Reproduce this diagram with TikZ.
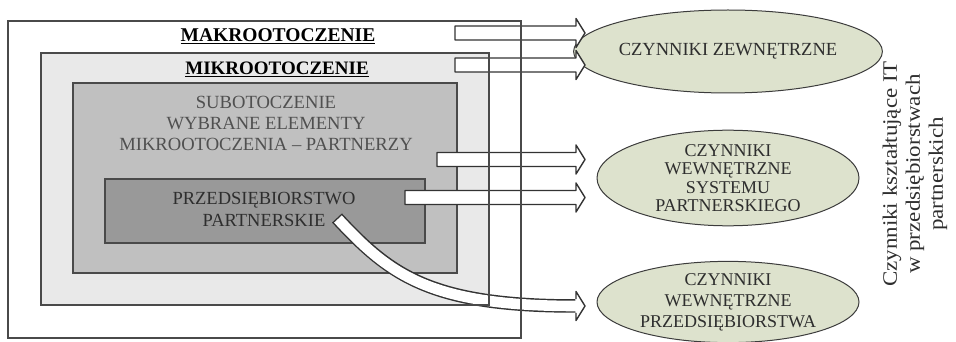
\documentclass[tikz,border=0pt]{standalone}
\usepackage{fontspec}
\setmainfont{Liberation Serif}
\newfontfamily\widefont[FakeStretch=1.12]{Liberation Serif}
\usetikzlibrary{calc,shapes.geometric}

\definecolor{macrofill}{HTML}{FFFFFF}
\definecolor{microfill}{HTML}{E9E9E9}
\definecolor{subfill}{HTML}{C0C0C0}
\definecolor{firmfill}{HTML}{999999}
\definecolor{boxline}{HTML}{4A4A4A}
\definecolor{ovalfill}{HTML}{DDE2CD}
\definecolor{ovalline}{HTML}{3C3C3C}
\definecolor{arrowline}{HTML}{333333}
\definecolor{subtext}{HTML}{505050}
\definecolor{firmtext}{HTML}{2E2E2E}

\tikzset{
  area/.style={anchor=north west, draw=none, inner sep=0pt, outer sep=0pt},
  frame/.style={draw=boxline, line width=1.6pt},
  oval/.style={ellipse, draw=ovalline, fill=ovalfill, line width=1pt,
    minimum width=262pt, inner sep=0pt, align=center, text=firmtext,
    font=\fontsize{18}{19}\selectfont},
  blockarrow/.style={draw=arrowline, fill=white, line width=1.4pt, line join=round},
  headline/.style={draw=arrowline, line width=1.4pt, line join=round},
}

% straight block arrow between two named coordinates (tail, tip)
\newcommand\blockarrow[2]{%
  \draw[blockarrow] ($(#1)+(0,-7)$) -- ($(#2)+(-9,-7)$) -- ($(#2)+(-9,-14.5)$)
    -- (#2) -- ($(#2)+(-9,14.5)$) -- ($(#2)+(-9,7)$) -- ($(#1)+(0,7)$) -- cycle;}

\begin{document}
\begin{tikzpicture}[x=1pt,y=-1pt]
\useasboundingbox (0,0) rectangle (956,342);

% nested environment areas
\node[area, fill=macrofill, minimum width=513pt, minimum height=317pt] (macro) at (8,21) {};
\node[area, fill=microfill, minimum width=448pt, minimum height=252pt] (micro) at (41,53) {};
\node[area, fill=subfill, minimum width=384pt, minimum height=190pt] (sub) at (73,83) {};
\node[area, fill=firmfill, minimum width=320pt, minimum height=64pt] (firm) at (105,179) {};
\draw[frame] (sub.north west) rectangle (sub.south east);
\draw[frame] (firm.north west) rectangle (firm.south east);

% labels of the areas
\node[font=\fontsize{19.5}{20}\selectfont\bfseries] (macrolabel) at (278,36) {\underline{MAKROOTOCZENIE}};
\node[font=\fontsize{19}{20}\selectfont\bfseries] (microlabel) at (277,69) {\underline{MIKROOTOCZENIE}};
\node[font=\fontsize{18.6}{21}\selectfont, text=subtext, align=center] (sublabel) at (266,123)
  {SUBOTOCZENIE\\WYBRANE ELEMENTY\\MIKROOTOCZENIA -- PARTNERZY};
\node[font=\fontsize{18.5}{22}\selectfont, text=firmtext, align=center] (firmlabel) at (264,209)
  {PRZEDSIĘBIORSTWO\\PARTNERSKIE};

% groups of factors
\node[oval, minimum height=83pt, font=\fontsize{18.5}{19}\selectfont] (ext) at (728,51.5) {CZYNNIKI ZEWNĘTRZNE};
\node[oval, minimum height=90pt, font=\fontsize{18}{18.5}\selectfont] (sys) at (728,178) {CZYNNIKI\\WEWNĘTRZNE\\SYSTEMU\\PARTNERSKIEGO};
\node[oval, minimum height=80pt, font=\fontsize{18}{21}\selectfont] (own) at (728,302) {CZYNNIKI\\WEWNĘTRZNE\\PRZEDSIĘBIORSTWA};

% arrow tails and tips
\coordinate (t1) at (455,33);    \coordinate (h1) at (585,33);
\coordinate (t2) at (455,65);    \coordinate (h2) at (585,65);
\coordinate (t3) at (437,159.5); \coordinate (h3) at (585,159.5);
\coordinate (t4) at (405,197.5); \coordinate (h4) at (585,197.5);
\coordinate (t5) at (337,218);   \coordinate (h5) at (585,306);

\blockarrow{t1}{h1}
\blockarrow{t2}{h2}
\blockarrow{t3}{h3}
\blockarrow{t4}{h4}

% curved arrow from the partner enterprise
\draw[arrowline, line width=13.5pt] (t5) .. controls (390,275) and (430,306) .. ($(h5)+(-9,0)$);
\draw[white, line width=10.6pt, shorten <=1.4pt] (t5) .. controls (390,275) and (430,306) .. ($(h5)+(-9,0)$);
\fill[white] ($(h5)+(-9.6,-14.5)$) -- (h5) -- ($(h5)+(-9.6,14.5)$) -- cycle;
\draw[headline] ($(h5)+(-9,-6.8)$) -- ($(h5)+(-9,-14.5)$) -- (h5) -- ($(h5)+(-9,14.5)$) -- ($(h5)+(-9,6.8)$);

% outer frames lie over the arrows
\draw[frame] (micro.north west) rectangle (micro.south east);
\draw[frame] (macro.north west) rectangle (macro.south east);

% side caption
\node[rotate=90, align=center, text=firmtext, font=\widefont\fontsize{20.5}{23}\selectfont] (caption) at (915,174)
  {Czynniki kształtujące IT\\w przedsiębiorstwach\\partnerskich};
\end{tikzpicture}
\end{document}
